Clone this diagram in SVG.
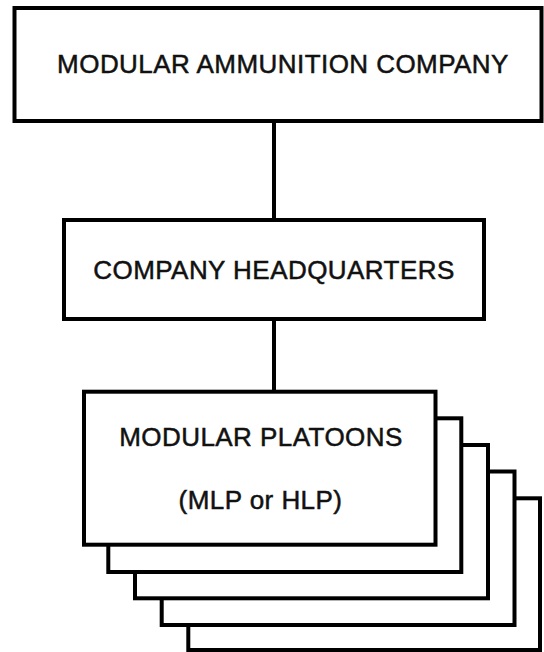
<svg xmlns="http://www.w3.org/2000/svg" width="544" height="652" viewBox="0 0 544 652">
<style>
.box{fill:#fff;stroke:#000;stroke-width:4}
.lbl{font-family:"Liberation Sans",Arial,sans-serif;font-size:26px;letter-spacing:0.45px;fill:#111;stroke:#111;stroke-width:0.5;text-anchor:middle}
.conn{stroke:#000;stroke-width:4;fill:none}
</style>
<rect width="544" height="652" fill="#fff"/>
<g id="connectors">
<line class="conn" x1="274" y1="121" x2="274" y2="220"/>
<line class="conn" x1="274" y1="319" x2="274" y2="392"/>
</g>
<g id="company">
<rect class="box" x="14.5" y="8" width="527" height="113"/>
<text class="lbl" x="283" y="73">MODULAR AMMUNITION COMPANY</text>
</g>
<g id="headquarters">
<rect class="box" x="64" y="220" width="420" height="99"/>
<text class="lbl" x="274" y="278.5">COMPANY HEADQUARTERS</text>
</g>
<g id="platoons">
<rect class="box" x="188.3" y="498.3" width="351.7" height="151.7"/>
<rect class="box" x="161.7" y="471.5" width="352.8" height="153.5"/>
<rect class="box" x="135" y="445" width="353" height="153.3"/>
<rect class="box" x="108.3" y="418.3" width="353" height="153.7"/>
<rect class="box" x="84" y="391.7" width="351.5" height="153"/>
<text class="lbl" x="261" y="445.5">MODULAR PLATOONS</text>
<text class="lbl" x="260.5" y="508.5">(MLP or HLP)</text>
</g>
</svg>
